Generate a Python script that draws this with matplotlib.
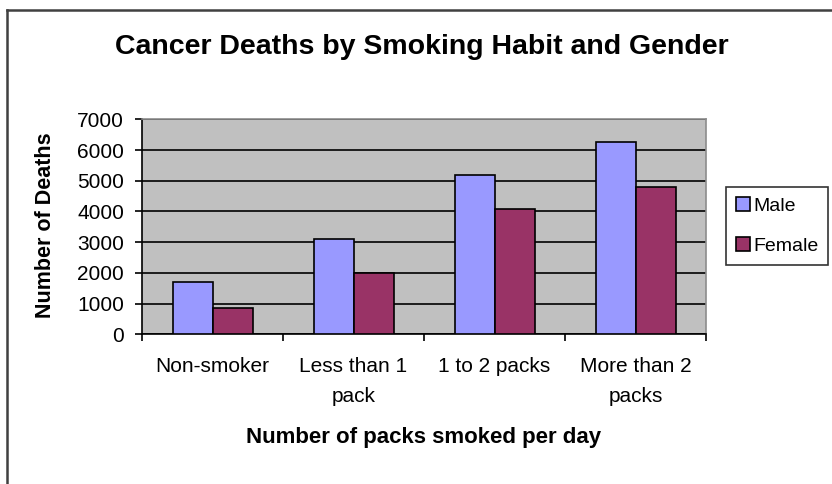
import matplotlib
matplotlib.use("Agg")
import matplotlib.pyplot as plt
import numpy as np
from matplotlib.lines import Line2D
from matplotlib.patches import Patch

plt.rcParams['font.family'] = ['Liberation Sans', 'DejaVu Sans']

categories = ["Non-smoker", "Less than 1\npack", "1 to 2 packs", "More than 2\npacks"]
male = [1690, 3100, 5200, 6250]
female = [850, 2000, 4080, 4790]
yticks = [0, 1000, 2000, 3000, 4000, 5000, 6000, 7000]

W, H = 832, 484
fig = plt.figure(figsize=(W / 100, H / 100), dpi=100)
ax = fig.add_axes([142 / W, 1 - 334.3 / H, (706 - 142) / W, (334.3 - 119.3) / H])
ax.set_facecolor('#C0C0C0')

x = np.arange(len(categories))
bw = 40 / 141
ax.bar(x - bw / 2, male, bw, color='#9999FF', edgecolor='black', linewidth=1.2, zorder=3, label='Male')
ax.bar(x + bw / 2, female, bw, color='#993366', edgecolor='black', linewidth=1.2, zorder=3, label='Female')

ax.set_xlim(-0.5, len(categories) - 0.5)
ax.set_ylim(0, 7000)
ax.set_yticks(yticks)
ax.set_yticklabels([str(v) for v in yticks], fontsize=15)
ax.yaxis.grid(True, color='black', linewidth=1.2, zorder=1)
ax.set_axisbelow(True)

ax.set_xticks(x)
ax.set_xticklabels(categories, fontsize=15, linespacing=1.75, va='top')
ax.set_xticks(np.arange(-0.5, len(categories), 1.0), minor=True)
ax.tick_params(axis='x', which='major', length=0, pad=16)
ax.tick_params(axis='x', which='minor', length=5, width=1.2, direction='out', color='black')
ax.tick_params(axis='y', length=5, width=1.2, direction='out', pad=8, color='black')

for s in ['left', 'bottom']:
    ax.spines[s].set_color('black')
    ax.spines[s].set_linewidth(1.2)
for s in ['top', 'right']:
    ax.spines[s].set_color('#8C8C8C')
    ax.spines[s].set_linewidth(1.2)

fig.text(422 / W, 1 - 47 / H, "Cancer Deaths by Smoking Habit and Gender",
         fontsize=20.5, fontweight='bold', ha='center', va='center')
fig.text(46 / W, 1 - 225 / H, "Number of Deaths", fontsize=15.5, fontweight='bold',
         rotation=90, ha='center', va='center')
fig.text(424 / W, 1 - 438 / H, "Number of packs smoked per day", fontsize=16,
         fontweight='bold', ha='center', va='center')

handles = [Patch(facecolor='#9999FF', edgecolor='black', linewidth=1.2),
           Patch(facecolor='#993366', edgecolor='black', linewidth=1.2)]
leg = fig.legend(handles, ['Male', 'Female'], loc='upper left',
                 bbox_to_anchor=(726 / W, 1 - 187 / H), fontsize=14,
                 frameon=True, fancybox=False, handlelength=0.75, handleheight=0.75,
                 handletextpad=0.15, labelspacing=1.15, borderpad=0.5, borderaxespad=0)
leg.get_frame().set_edgecolor('black')
leg.get_frame().set_linewidth(1.2)

fig.add_artist(Line2D([7 / W, 7 / W], [0, 1 - 10 / H], transform=fig.transFigure,
                      color='#404040', linewidth=1.8))
fig.add_artist(Line2D([7 / W, 1], [1 - 10 / H, 1 - 10 / H], transform=fig.transFigure,
                      color='#404040', linewidth=1.8))

fig.savefig('out.png', dpi=100)
